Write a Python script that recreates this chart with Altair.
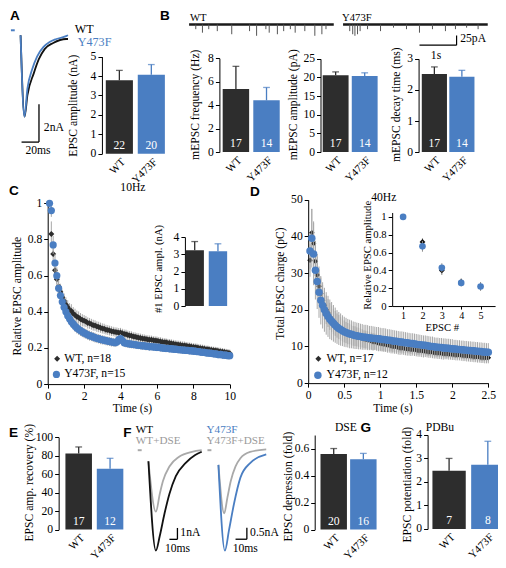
import altair as alt
import pandas as pd

W, H = 490, 552
SX, SY = W / 506, H / 568
FS = 0.97


def X(v):
    return round(v * SX, 2)


def Y(v):
    return round(v * SY, 2)


BLACK = "#2d2d2d"
BLUE = "#4a7ec2"
ERRGRAY = "#a8a8a8"
TRGRAY = "#a9a9a9"
SERIF = "Liberation Serif"
SANS = "Liberation Sans"
GROUPS = ["WT", "Y473F"]
FMT = ".1~f"

# ---------------- Panel A traces (ms, nA) ----------------
a_wt_t = [0, 4.6, 7.8, 15.2, 20.8, 27.8, 37.4, 52.2, 54.4]
a_wt_i = [0, -4.3, -3.18, -2.0, -1.28, -0.72, -0.41, -0.2, -0.2]
a_y_t = [0, 4.4, 7.8, 13.3, 18.9, 26.3, 33.3, 41.1, 52.2, 54.4]
a_y_i = [0, -4.3, -2.82, -1.8, -1.13, -0.62, -0.36, -0.2, -0.05, 0.0]
# scale bar 20 ms / 2 nA
a_sb = {"x1": [1.1, 21.1], "x2": [21.1, 21.1], "y1": [-5.64, -5.64], "y2": [-5.64, -3.64]}
a_stim = {"x1": [-11.1], "x2": [-6.7], "y1": [0.26], "y2": [0.26]}

# ---------------- bar data ----------------
A_vals, A_err, A_n = [3.78, 4.07], [0.51, 0.52], [22, 20]
B1_vals, B1_err, B1_n = [5.38, 4.41], [1.93, 1.1], [17, 14]
B2_vals, B2_err, B2_n = [20.6, 20.4], [0.9, 0.85], [17, 14]
B3_vals, B3_err, B3_n = [2.51, 2.42], [0.23, 0.21], [17, 14]
CI_vals, CI_err = [3.23, 3.18], [0.51, 0.43]
E_vals, E_err, E_n = [82.5, 66.0], [7.0, 11.2], [17, 12]
F_vals, F_err, F_n = [0.559, 0.521], [0.041, 0.043], [20, 16]
G_vals, G_err, G_n = [2.48, 2.73], [0.52, 1.0], [7, 8]

# ---------------- Panel B mEPSC traces (s, pA) ----------------
b_wt_evt_t = [0.18, 0.36, 0.53, 0.76, 1.15, 1.63, 1.82, 2.07, 2.16, 2.38, 2.55, 2.73, 2.86, 3.12, 3.39, 3.58, 3.69]
b_wt_evt_a = [12, 21, 12, 17, 25, 17, 29, 12, 21, 25, 17, 12, 21, 17, 29, 25, 12]
b_y_evt_t = [0.18, 0.26, 0.32, 0.39, 0.46, 0.66, 1.01, 1.36, 1.71, 2.06, 2.41, 2.76, 3.03, 3.33, 3.64]
b_y_evt_a = [17, 25, 29, 25, 17, 12, 17, 8, 12, 21, 12, 17, 12, 8, 12]
b_len = [0, 3.9]
b_sb = {"x1": [2.06, 3.06], "x2": [3.06, 3.06], "y1": [-53.25, -53.25], "y2": [-53.25, -28.25]}

# ---------------- Panel C (10 Hz) ----------------
C_WT = [1.00, 0.83, 0.72, 0.63, 0.58, 0.54, 0.51, 0.48, 0.46, 0.44,
        0.425, 0.41, 0.405, 0.39, 0.382, 0.372, 0.368, 0.36, 0.354, 0.35,
        0.346, 0.338, 0.336, 0.331, 0.326, 0.324, 0.318, 0.316, 0.312, 0.308,
        0.306, 0.301, 0.299, 0.296, 0.293, 0.291, 0.288, 0.287, 0.284, 0.285,
        0.281, 0.277, 0.276, 0.271, 0.269, 0.267, 0.263, 0.262, 0.259, 0.257,
        0.255, 0.252, 0.251, 0.249, 0.247, 0.246, 0.245, 0.242, 0.241, 0.240,
        0.237, 0.236, 0.233, 0.232, 0.231, 0.228, 0.227, 0.225, 0.223, 0.221,
        0.219, 0.218, 0.217, 0.214, 0.214, 0.212, 0.210, 0.209, 0.207, 0.205,
        0.204, 0.203, 0.200, 0.199, 0.197, 0.196, 0.193, 0.193, 0.190, 0.189,
        0.187, 0.186, 0.185, 0.182, 0.181, 0.179, 0.177, 0.175, 0.174, 0.171]
C_WT_SEM = [0.0, 0.07, 0.06, 0.055, 0.05, 0.048, 0.045, 0.043, 0.041, 0.04,
            0.039, 0.038, 0.037, 0.036, 0.035, 0.035, 0.034, 0.033, 0.033, 0.032,
            0.031, 0.031, 0.030, 0.030, 0.030, 0.029, 0.029, 0.029, 0.028, 0.028,
            0.028, 0.027, 0.027, 0.027, 0.027, 0.026, 0.026, 0.026, 0.026, 0.026,
            0.025, 0.025, 0.025, 0.025, 0.025, 0.025, 0.024, 0.024, 0.024, 0.024,
            0.024, 0.024, 0.024, 0.023, 0.023, 0.023, 0.023, 0.023, 0.023, 0.023,
            0.023, 0.023, 0.023, 0.022, 0.022, 0.022, 0.022, 0.022, 0.022, 0.022,
            0.022, 0.022, 0.022, 0.022, 0.022, 0.021, 0.021, 0.021, 0.021, 0.021,
            0.021, 0.021, 0.021, 0.021, 0.021, 0.021, 0.020, 0.020, 0.020, 0.020,
            0.020, 0.020, 0.020, 0.020, 0.020, 0.020, 0.020, 0.020, 0.020, 0.020]
C_Y = [1.00, 0.96, 0.77, 0.67, 0.60, 0.53, 0.49, 0.455, 0.425, 0.40,
       0.378, 0.362, 0.345, 0.333, 0.321, 0.311, 0.303, 0.296, 0.289, 0.283,
       0.278, 0.273, 0.268, 0.265, 0.261, 0.257, 0.253, 0.251, 0.247, 0.245,
       0.243, 0.240, 0.238, 0.236, 0.233, 0.232, 0.229, 0.233, 0.246, 0.252,
       0.241, 0.229, 0.226, 0.224, 0.222, 0.221, 0.219, 0.218, 0.216, 0.215,
       0.214, 0.211, 0.213, 0.209, 0.210, 0.206, 0.208, 0.205, 0.206, 0.203,
       0.204, 0.201, 0.200, 0.199, 0.197, 0.198, 0.195, 0.196, 0.193, 0.193,
       0.192, 0.190, 0.190, 0.188, 0.188, 0.186, 0.186, 0.184, 0.185, 0.182,
       0.182, 0.180, 0.180, 0.177, 0.176, 0.176, 0.173, 0.172, 0.171, 0.170,
       0.168, 0.167, 0.166, 0.163, 0.164, 0.161, 0.160, 0.160, 0.157, 0.157]
C_Y_SEM = [0.0, 0.035, 0.05, 0.05, 0.046, 0.044, 0.042, 0.04, 0.038, 0.036,
           0.035, 0.034, 0.033, 0.032, 0.031, 0.031, 0.030, 0.030, 0.029, 0.029,
           0.028, 0.028, 0.028, 0.027, 0.027, 0.027, 0.026, 0.026, 0.026, 0.026,
           0.025, 0.025, 0.025, 0.025, 0.025, 0.024, 0.024, 0.024, 0.024, 0.024,
           0.024, 0.023, 0.023, 0.023, 0.023, 0.023, 0.023, 0.022, 0.022, 0.022,
           0.022, 0.022, 0.022, 0.022, 0.022, 0.021, 0.021, 0.021, 0.021, 0.021,
           0.021, 0.021, 0.021, 0.021, 0.021, 0.021, 0.020, 0.020, 0.020, 0.020,
           0.020, 0.020, 0.020, 0.020, 0.020, 0.020, 0.020, 0.020, 0.020, 0.020,
           0.020, 0.020, 0.020, 0.020, 0.020, 0.020, 0.020, 0.020, 0.020, 0.020,
           0.020, 0.020, 0.020, 0.020, 0.020, 0.020, 0.020, 0.020, 0.020, 0.020]

# ---------------- Panel D (40 Hz) ----------------
D_WT = [33.5, 41.0, 38.1, 33.2, 29.5, 26.4, 24.4, 22.6, 21.2, 20.0,
        19.1, 18.2, 17.5, 16.8, 16.3, 15.7, 15.3, 14.8, 14.5, 14.1,
        13.8, 13.5, 13.4, 13.1, 12.9, 12.8, 12.6, 12.5, 12.4, 12.2,
        12.0, 11.9, 11.8, 11.6, 11.5, 11.3, 11.3, 11.1, 10.9, 10.8,
        10.7, 10.6, 10.5, 10.3, 10.3, 10.1, 10.0, 9.9, 9.9, 9.7,
        9.6, 9.6, 9.5, 9.4, 9.3, 9.3, 9.2, 9.2, 9.1, 9.0,
        8.9, 8.9, 8.8, 8.7, 8.7, 8.6, 8.5, 8.5, 8.4, 8.3,
        8.3, 8.2, 8.2, 8.1, 8.0, 8.0, 8.0, 7.9, 7.9, 7.8,
        7.8, 7.7, 7.7, 7.7, 7.6, 7.5, 7.5, 7.4, 7.4, 7.3,
        7.3, 7.2, 7.2, 7.1, 7.1, 7.0, 7.0, 6.9, 6.9, 6.9]
D_WT_SEM = [4.5, 6.5, 6.0, 5.5, 5.0, 4.6, 4.4, 4.2, 4.0, 3.9,
            3.8, 3.7, 3.6, 3.5, 3.4, 3.3, 3.3, 3.2, 3.1, 3.0,
            2.9, 2.9, 2.8, 2.8, 2.7, 2.7, 2.6, 2.6, 2.5, 2.5,
            2.4, 2.4, 2.4, 2.3, 2.3, 2.3, 2.2, 2.2, 2.2, 2.1,
            2.1, 2.1, 2.0, 2.0, 2.0, 2.0, 1.9, 1.9, 1.9, 1.9,
            1.9, 1.8, 1.8, 1.8, 1.8, 1.8, 1.8, 1.7, 1.7, 1.7,
            1.7, 1.7, 1.7, 1.7, 1.6, 1.6, 1.6, 1.6, 1.6, 1.6,
            1.6, 1.6, 1.6, 1.6, 1.6, 1.5, 1.5, 1.5, 1.5, 1.5,
            1.5, 1.5, 1.5, 1.5, 1.5, 1.5, 1.5, 1.5, 1.5, 1.5,
            1.5, 1.5, 1.5, 1.5, 1.5, 1.5, 1.5, 1.5, 1.5, 1.5]
D_Y = [36.0, 39.5, 35.2, 30.8, 27.7, 24.8, 22.6, 21.2, 20.0, 19.0,
       18.2, 17.4, 16.9, 16.3, 15.8, 15.3, 14.9, 14.6, 14.3, 14.0,
       13.8, 13.6, 13.4, 13.3, 13.1, 13.0, 12.9, 12.8, 12.7, 12.6,
       12.5, 12.5, 12.4, 12.3, 12.3, 12.2, 12.2, 12.1, 12.1, 12.0,
       11.9, 11.9, 11.8, 11.7, 11.7, 11.6, 11.5, 11.4, 11.4, 11.3,
       11.2, 11.2, 11.1, 11.0, 11.0, 10.9, 10.8, 10.8, 10.7, 10.6,
       10.5, 10.5, 10.4, 10.3, 10.3, 10.2, 10.1, 10.0, 10.0, 9.9,
       9.8, 9.8, 9.7, 9.7, 9.6, 9.6, 9.5, 9.5, 9.4, 9.4,
       9.3, 9.3, 9.2, 9.2, 9.1, 9.1, 9.0, 9.0, 8.9, 8.9,
       8.8, 8.8, 8.7, 8.7, 8.6, 8.6, 8.5, 8.5, 8.4, 8.4]
D_Y_SEM = [5.0, 8.0, 8.5, 8.0, 7.5, 7.0, 6.6, 6.3, 6.0, 5.8,
           5.6, 5.4, 5.2, 5.0, 4.8, 4.6, 4.5, 4.4, 4.2, 4.1,
           4.0, 3.9, 3.9, 3.8, 3.7, 3.7, 3.6, 3.6, 3.5, 3.5,
           3.4, 3.4, 3.4, 3.3, 3.3, 3.3, 3.2, 3.2, 3.2, 3.1,
           3.1, 3.1, 3.1, 3.0, 3.0, 3.0, 3.0, 3.0, 2.9, 2.9,
           2.9, 2.9, 2.9, 2.9, 2.8, 2.8, 2.8, 2.8, 2.8, 2.8,
           2.8, 2.7, 2.7, 2.7, 2.7, 2.7, 2.7, 2.7, 2.7, 2.6,
           2.6, 2.6, 2.6, 2.6, 2.6, 2.6, 2.6, 2.6, 2.6, 2.6,
           2.5, 2.5, 2.5, 2.5, 2.5, 2.5, 2.5, 2.5, 2.5, 2.5,
           2.5, 2.5, 2.5, 2.5, 2.5, 2.5, 2.5, 2.5, 2.5, 2.5]
DI_n = [1, 2, 3, 4, 5]
DI_WT, DI_WT_SEM = [1.0, 0.72, 0.40, 0.27, 0.22], [0.0, 0.04, 0.05, 0.04, 0.04]
DI_Y, DI_Y_SEM = [1.0, 0.67, 0.43, 0.26, 0.22], [0.0, 0.06, 0.05, 0.04, 0.05]

# ---------------- Panel F traces ----------------
f_wt_t = [0, 9.3, 14.1, 20.1, 26.1, 34.1, 46.1, 58.2, 66.3]
f_wt_i = [-0.8, -8.66, -7.38, -5.38, -3.68, -2.11, -0.97, -0.26, 0.03]
f_wtd_t = [0, 9.3, 14.1, 18.1, 26.1, 38.2, 54.2, 66.3]
f_wtd_i = [-0.8, -5.24, -3.68, -2.54, -1.26, -0.40, 0.03, 0.17]
f_y_t = [0, 5.7, 9.4, 13.7, 19.4, 28.0, 42.2]
f_y_i = [-0.56, -4.33, -3.41, -2.28, -1.12, -0.48, -0.10]
f_yd_t = [0, 5.1, 8.0, 10.9, 15.1, 19.4, 28.0, 42.2]
f_yd_i = [-0.56, -2.69, -1.98, -1.27, -0.63, -0.27, 0.01, 0.12]
f_wt_sb = {"x1": [26.1, 36.1], "x2": [36.1, 36.1], "y1": [-7.67, -7.67], "y2": [-7.67, -6.67]}
f_y_sb = {"x1": [15.1, 25.1], "x2": [25.1, 25.1], "y1": [-3.83, -3.83], "y2": [-3.83, -3.33]}
f_wt_stim = {"x1": [-13.3], "x2": [-8.4], "y1": [0.17], "y2": [0.17]}
f_y_stim = {"x1": [-9.7], "x2": [-6.2], "y1": [0.085], "y2": [0.085]}

layers = []


def yaxis(x_ref, ticks, title=None, tc=None, fs=12, tfs=12):
    kw = dict(orient="left", offset=-X(x_ref), values=ticks, format=FMT,
              labelFontSize=fs * FS, labelFlush=False, labelOverlap=False)
    if title:
        kw.update(title=title, titleX=round(X(tc[0]) - X(x_ref), 2), titleY=Y(tc[1]),
                  titleAngle=270, titleAlign="center", titleBaseline="middle",
                  titleFontSize=tfs * FS)
    else:
        kw.update(title=None)
    return alt.Axis(**kw)


def xaxis(y_ref, ticks, title, tc, fs=12, tfs=12, tick=4, pad=2):
    return alt.Axis(orient="bottom", offset=round(Y(y_ref) - H, 2), values=ticks, format=FMT,
                    labelFontSize=fs * FS, labelFlush=False, labelOverlap=False, tickSize=tick,
                    labelPadding=pad,
                    title=title, titleX=X(tc[0]), titleY=round(Y(tc[1]) - Y(y_ref), 2),
                    titleAlign="center", titleBaseline="middle", titleFontSize=tfs * FS)


def lin(d0, d1, r0, r1):
    return alt.Scale(domain=[d0, d1], range=[r0, r1], nice=False, zero=False)


def label(text, x, y, color="black", size=12, font=SERIF, weight="normal", align="left", baseline="middle"):
    return alt.Chart(pd.DataFrame({"a": [0]})).mark_text(
        text=text, color=color, fontSize=size * FS, font=font, fontWeight=weight,
        align=align, baseline=baseline).encode(x=alt.value(X(x)), y=alt.value(Y(y)))


def bar_panel(vals, errs, ns, axis_x, y0, ytop, ymax, ticks, wt, bl,
              title=None, tc=None, xlabels=True, tfs=12, fs=12):
    step = bl[0] - wt[0]
    w = wt[1] - wt[0]
    pi = 1 - w / step
    po = 0.05
    a = wt[0] - step * po
    b = a + step * (2 - pi + 2 * po)
    xs = alt.Scale(type="band", domain=GROUPS, range=[X(a), X(b)], paddingInner=pi, paddingOuter=po)
    ys = lin(0, ymax, Y(y0), Y(ytop))
    df = pd.DataFrame({"g": GROUPS, "v": vals, "e": errs, "c": [BLACK, BLUE], "z": [0, 0]})
    if ns:
        df["n"] = [str(n) for n in ns]
    if xlabels:
        xa = alt.Axis(orient="bottom", offset=round(Y(y0) - H, 2), domain=False, ticks=False,
                      labelAngle=-45, labelAlign="right", labelBaseline="top", labelPadding=2,
                      labelFontSize=11.3 * FS, labelOverlap=False, title=None)
    else:
        xa = None
    base = alt.Chart(df).transform_calculate(hi="datum.v + datum.e")
    out = [
        base.mark_bar().encode(
            x=alt.X("g:N", scale=xs, axis=xa),
            y=alt.Y("v:Q", scale=ys, axis=yaxis(axis_x, ticks, title, tc, fs=fs, tfs=tfs)),
            color=alt.Color("c:N", scale=None)),
        base.mark_rule(strokeWidth=1.3).encode(
            x=alt.X("g:N", scale=xs, axis=None),
            y=alt.Y("v:Q", scale=ys, axis=None), y2="hi:Q",
            color=alt.Color("c:N", scale=None)),
        base.mark_tick(size=X(7), thickness=1.3).encode(
            x=alt.X("g:N", scale=xs, axis=None),
            y=alt.Y("hi:Q", scale=ys, axis=None),
            color=alt.Color("c:N", scale=None)),
    ]
    if ns:
        out.append(base.mark_text(color="white", font=SERIF, fontSize=12 * FS,
                                  baseline="alphabetic", dy=-5).encode(
            x=alt.X("g:N", scale=xs, axis=None),
            y=alt.Y("z:Q", scale=ys, axis=None), text="n:N"))
    return out


def line(ts, vs, xs, ys, color, width=1.6):
    df = pd.DataFrame({"t": ts, "v": vs})
    return alt.Chart(df).mark_line(color=color, strokeWidth=width, interpolate="monotone").encode(
        x=alt.X("t:Q", scale=xs, axis=None), y=alt.Y("v:Q", scale=ys, axis=None))


def segs(d, xs, ys, color="black", width=1.2):
    df = pd.DataFrame(d)
    return alt.Chart(df).mark_rule(color=color, strokeWidth=width).encode(
        x=alt.X("x1:Q", scale=xs, axis=None), x2="x2:Q",
        y=alt.Y("y1:Q", scale=ys, axis=None), y2="y2:Q")


def scatter(idx, vals, sems, step, xs, ys, color, shape, size, xa=None, ya=None, ecolor=ERRGRAY):
    df = pd.DataFrame({"i": idx, "v": vals, "e": sems})
    base = alt.Chart(df).transform_calculate(
        t="datum.i * %s" % step, lo="datum.v - datum.e", hi="datum.v + datum.e")
    err = base.mark_rule(color=ecolor, strokeWidth=1).encode(
        x=alt.X("t:Q", scale=xs, axis=None),
        y=alt.Y("lo:Q", scale=ys, axis=None), y2="hi:Q")
    pts = base.mark_point(shape=shape, filled=True, size=size, color=color, opacity=1).encode(
        x=alt.X("t:Q", scale=xs, axis=xa if xa is not None else None),
        y=alt.Y("v:Q", scale=ys, axis=ya if ya is not None else None))
    return [err, pts]


# ======== Panel A ========
axs = lin(0, 60, X(13), X(67))
ays = lin(-6, 0, Y(145), Y(28))
layers += [line(a_wt_t, a_wt_i, axs, ays, "#111111", 1.8),
           line(a_y_t, a_y_i, axs, ays, BLUE, 1.8),
           segs(a_sb, axs, ays, "black", 1.3),
           segs(a_stim, axs, ays, BLUE, 2)]
layers += [label("WT", 69, 22, size=12.5), label("Y473F", 72, 35, BLUE, size=12.5),
           label("2nA", 37, 123), label("20ms", 18, 147)]
layers += bar_panel(A_vals, A_err, A_n, 97, 150, 50, 5, [0, 1, 2, 3, 4, 5],
                    (101, 129), (134, 163), "EPSC amplitude (nA)", (68, 100))

# ======== Panel B traces ========
bys = lin(-55, 10, Y(39), Y(13))
bxs_wt = lin(0, 3.9, X(187), X(336.4))
bxs_y = lin(0, 3.9, X(346), X(495.4))
for xs_, et, ea in [(bxs_wt, b_wt_evt_t, b_wt_evt_a), (bxs_y, b_y_evt_t, b_y_evt_a)]:
    layers.append(alt.Chart(pd.DataFrame({"t": b_len, "v": [0, 0]})).mark_line(
        color="#1a1a1a", strokeWidth=2.6).encode(
        x=alt.X("t:Q", scale=xs_, axis=None), y=alt.Y("v:Q", scale=bys, axis=None)))
    edf = pd.DataFrame({"t": et, "a": ea})
    layers.append(alt.Chart(edf).transform_calculate(neg="-datum.a").mark_rule(
        color="#555555", strokeWidth=1).encode(
        x=alt.X("t:Q", scale=xs_, axis=None),
        y=alt.Y("neg:Q", scale=bys, axis=None), y2=alt.datum(0)))
layers.append(segs(b_sb, bxs_y, bys, "black", 1.2))
layers += [label("WT", 188, 10, size=11), label("Y473F", 345, 10, size=11),
           label("25pA", 467, 32), label("1s", 442, 49, align="center")]

layers += bar_panel(B1_vals, B1_err, B1_n, 218.3, 148.3, 51.7, 8, [0, 2, 4, 6, 8],
                    (221.7, 249), (253.3, 281), "mEPSC frequency (Hz)", (194, 99))
layers += bar_panel(B2_vals, B2_err, B2_n, 322.7, 148.3, 52.3, 25, [0, 5, 10, 15, 20, 25],
                    (325, 351.7), (355, 381.7), "mEPSC amplitude (pA)", (295, 99))
layers += bar_panel(B3_vals, B3_err, B3_n, 424, 148.3, 52.3, 3, [0, 1, 2, 3],
                    (427.3, 453.3), (455.7, 481.7), "mEPSC decay time (ms)", (401, 99))

# ======== Panel C ========
cxs = lin(0, 10, X(41), X(229))
cys = lin(0, 1, Y(387), Y(201))
idx = list(range(1, 101))
layers += scatter(idx, C_WT, C_WT_SEM, 0.1, cxs, cys, BLACK, "diamond", 36,
                  xa=xaxis(387, [0, 2, 4, 6, 8, 10], "Time (s)", (128, 412)),
                  ya=yaxis(41, [0, 0.2, 0.4, 0.6, 0.8, 1], "Relative EPSC amplitude", (10, 296)))
layers += scatter(idx, C_Y, C_Y_SEM, 0.1, cxs, cys, BLUE, "circle", 52)
layers += bar_panel(CI_vals, CI_err, None, 182.7, 306.7, 235.7, 4, [0, 1, 2, 3, 4],
                    (183.3, 202.3), (207.3, 227.3), "#1 EPSC ampl. (nA)", (155, 268),
                    xlabels=False, tfs=11)
layers += [label("10Hz", 129, 185, align="center"),
           alt.Chart(pd.DataFrame({"a": [0]})).mark_point(shape="diamond", filled=True, size=36,
                                                           color=BLACK, opacity=1).encode(
               x=alt.value(X(50.7)), y=alt.value(Y(361))),
           alt.Chart(pd.DataFrame({"a": [0]})).mark_circle(size=52, color=BLUE, opacity=1).encode(
               x=alt.value(X(50)), y=alt.value(Y(377))),
           label("WT, n=18", 58, 361), label("Y473F, n=15", 58, 377)]

# ======== Panel D ========
dxs = lin(0, 2.5, X(310), X(496))
dys = lin(0, 50, Y(386), Y(197.3))
layers += scatter(idx, D_WT, D_WT_SEM, 0.025, dxs, dys, "#111111", "diamond", 30,
                  xa=xaxis(386, [0, 0.5, 1, 1.5, 2, 2.5], "Time (s)", (397, 412)),
                  ya=yaxis(310, [0, 10, 20, 30, 40, 50], "Total EPSC charge (pC)", (281.7, 283)))
layers += scatter(idx, D_Y, D_Y_SEM, 0.025, dxs, dys, BLUE, "circle", 56)
dixs = lin(0.45, 5.75, X(397), X(503))
diys = lin(0, 1.05, Y(306.7), Y(210.4))
layers += scatter(DI_n, DI_WT, DI_WT_SEM, 1, dixs, diys, "#111111", "diamond", 34,
                  xa=xaxis(306.7, [1, 2, 3, 4, 5], "EPSC #", (448, 329), fs=10.5, tfs=11,
                           tick=3, pad=1),
                  ya=yaxis(396.7, [0, 0.2, 0.4, 0.6, 0.8, 1], "Relative EPSC amplitude",
                           (371.7, 254), fs=11, tfs=11), ecolor="#777777")
layers += scatter(DI_n, DI_Y, DI_Y_SEM, 1, dixs, diys, BLUE, "circle", 44, ecolor="#8c8c8c")
layers += [label("40Hz", 388, 196, align="center"),
           alt.Chart(pd.DataFrame({"a": [0]})).mark_point(shape="diamond", filled=True, size=36,
                                                           color=BLACK, opacity=1).encode(
               x=alt.value(X(320.5)), y=alt.value(Y(361))),
           alt.Chart(pd.DataFrame({"a": [0]})).mark_circle(size=56, color=BLUE, opacity=1).encode(
               x=alt.value(X(320)), y=alt.value(Y(378))),
           label("WT, n=17", 329, 361), label("Y473F, n=12", 329, 378)]

# ======== Panel E ========
layers += bar_panel(E_vals, E_err, E_n, 52.3, 536.7, 441.7, 100, [0, 20, 40, 60, 80, 100],
                    (59.3, 86.7), (91.7, 118.3), "EPSC amp. recovery (%)", (22, 488))

# ======== Panel F traces ========
fwxs = lin(0, 70, X(145), X(203.1))
fys_w = lin(-9, 1, Y(562.3), Y(445.3))
fyxs = lin(0, 45, X(217.3), X(269.95))
fys_y = lin(-4.5, 0.5, Y(562.3), Y(445.3))
layers += [line(f_wtd_t, f_wtd_i, fwxs, fys_w, TRGRAY, 1.8),
           line(f_wt_t, f_wt_i, fwxs, fys_w, "#111111", 1.8),
           segs(f_wt_sb, fwxs, fys_w, "black", 1.3),
           segs(f_wt_stim, fwxs, fys_w, TRGRAY, 2),
           line(f_yd_t, f_yd_i, fyxs, fys_y, TRGRAY, 1.8),
           line(f_y_t, f_y_i, fyxs, fys_y, BLUE, 1.8),
           segs(f_y_sb, fyxs, fys_y, "black", 1.3),
           segs(f_y_stim, fyxs, fys_y, TRGRAY, 2)]
layers += [label("WT", 132, 434.5, size=11.5), label("WT+DSE", 132, 446, "#9a9a9a", size=11.5),
           label("Y473F", 205, 434.5, BLUE, size=11.5), label("Y473F+DSE", 205, 446, "#9a9a9a", size=11.5),
           label("1nA", 178, 540), label("10ms", 162, 557),
           label("0.5nA", 250, 540), label("10ms", 232, 557)]

layers += bar_panel(F_vals, F_err, F_n, 316.7, 536.7, 439.4, 0.7, [0, 0.2, 0.4, 0.6],
                    (322.7, 350), (353.3, 381.7), "EPSC depression (fold)", (290, 492))
layers += [label("DSE", 349, 432, align="center")]

# ======== Panel G ========
layers += bar_panel(G_vals, G_err, G_n, 433.3, 536, 439.3, 4, [0, 1, 2, 3, 4],
                    (438.3, 472.7), (478.3, 506), "EPSC potentiation (fold)", (413, 490))
layers += [label("PDBu", 446, 432, align="center")]

# ======== Panel letters ========
for t_, x_, y_ in [("A", 2, 8), ("B", 157, 8), ("C", 1, 188), ("D", 250, 189),
                   ("E", 1, 437), ("F", 119, 437), ("G", 364, 432)]:
    layers.append(label(t_, x_, y_, size=14, font=SANS, weight="bold"))

chart = alt.layer(*layers).resolve_scale(x="independent", y="independent").properties(
    width=W, height=H, autosize=alt.AutoSizeParams(type="none"), padding=0, background="white"
).configure_view(stroke=None).configure_axis(
    grid=False, labelFont=SERIF, titleFont=SERIF, titleFontWeight="normal",
    labelColor="black", titleColor="black", domainColor="black", tickColor="black",
    tickSize=4, domainWidth=1, tickWidth=1, labelPadding=2
)

chart.save("out.html", embed_options={"renderer": "svg", "actions": False})
